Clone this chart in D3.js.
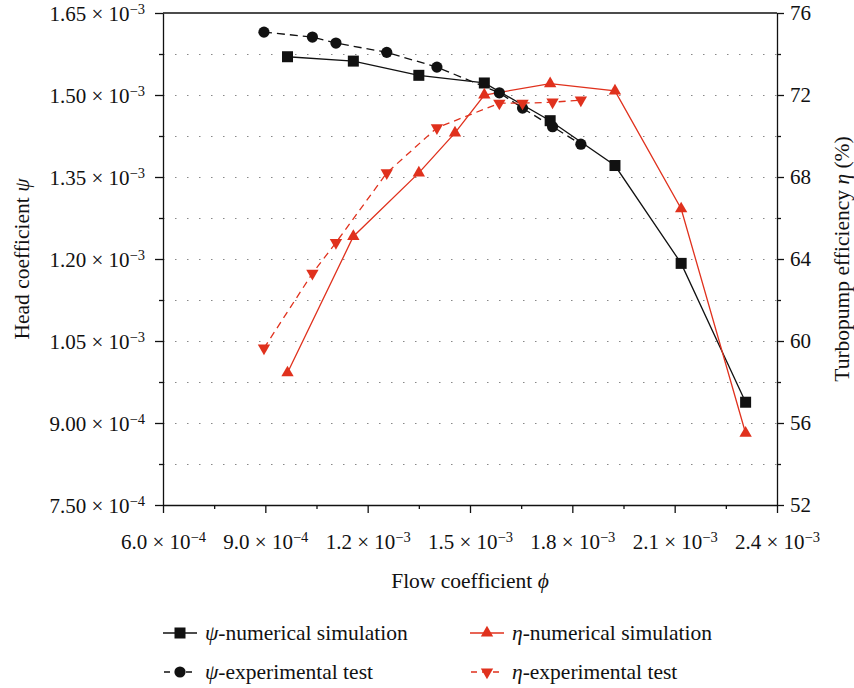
<!DOCTYPE html>
<html>
<head>
<meta charset="utf-8">
<script src="https://cdn.jsdelivr.net/npm/d3@7"></script>
<style>
  body { margin: 0; background: #fff; }
  svg text { font-family: "Liberation Serif", "DejaVu Serif", serif; fill: #111; }
</style>
</head>
<body>
<svg id="chart" width="854" height="688"></svg>
<script>
// Axis ticks and their labels (mantissa, exponent)
const phiTicks = [6e-4, 9e-4, 1.2e-3, 1.5e-3, 1.8e-3, 2.1e-3, 2.4e-3];
const phiTickLabels = [["6.0", "−4"], ["9.0", "−4"], ["1.2", "−3"], ["1.5", "−3"], ["1.8", "−3"], ["2.1", "−3"], ["2.4", "−3"]];
const psiTicks = [7.5e-4, 9e-4, 1.05e-3, 1.2e-3, 1.35e-3, 1.5e-3, 1.65e-3];
const psiTickLabels = [["7.50", "−4"], ["9.00", "−4"], ["1.05", "−3"], ["1.20", "−3"], ["1.35", "−3"], ["1.50", "−3"], ["1.65", "−3"]];
const etaTicks = [52, 56, 60, 64, 68, 72, 76];

// Numerical simulation: head coefficient
const phiSim = [9.65e-4, 1.158e-3, 1.350e-3, 1.542e-3, 1.735e-3, 1.925e-3, 2.119e-3, 2.308e-3];
const psiSim = [1.570e-3, 1.562e-3, 1.536e-3, 1.522e-3, 1.453e-3, 1.371e-3, 1.192e-3, 0.938e-3];
// Numerical simulation: efficiency
const phiSimEta = [9.65e-4, 1.158e-3, 1.350e-3, 1.456e-3, 1.542e-3, 1.735e-3, 1.925e-3, 2.119e-3, 2.308e-3];
const etaSim = [58.45, 65.1, 68.2, 70.15, 72.0, 72.55, 72.2, 66.45, 55.5];
// Experimental test
const phiExp = [8.96e-4, 1.038e-3, 1.107e-3, 1.256e-3, 1.403e-3, 1.586e-3, 1.654e-3, 1.742e-3, 1.825e-3];
const psiExp = [1.615e-3, 1.606e-3, 1.595e-3, 1.578e-3, 1.551e-3, 1.504e-3, 1.476e-3, 1.442e-3, 1.410e-3];
const etaExp = [59.65, 63.3, 64.8, 68.2, 70.4, 71.6, 71.6, 71.65, 71.75];

const RED = "#e0311d";
const BLACK = "#111";
const TICK_FONT = "21px";
const TITLE_FONT = "21.5px";

const m = { left: 163, right: 777, top: 13, bottom: 505 };
const svg = d3.select("#chart");

const x = d3.scaleLinear().domain([6e-4, 2.4e-3]).range([m.left, m.right]);
const yPsi = d3.scaleLinear().domain([7.5e-4, 1.65e-3]).range([m.bottom, m.top]);
const yEta = d3.scaleLinear().domain([52, 76]).range([m.bottom, m.top]);

const mids = arr => arr.slice(1).map((v, i) => (v + arr[i]) / 2);

// Dotted horizontal grid at every major and minor level
const gridVals = psiTicks.concat(mids(psiTicks)).filter(v => v > 7.5e-4 + 1e-9 && v < 1.65e-3 - 1e-9);
svg.append("g").selectAll("line").data(gridVals).join("line")
  .attr("x1", m.left).attr("x2", m.right)
  .attr("y1", d => Math.round(yPsi(d)) + 0.5).attr("y2", d => Math.round(yPsi(d)) + 0.5)
  .attr("stroke", "#888").attr("stroke-width", 1.2).attr("stroke-dasharray", "1.5,10.5");

// Top border
svg.append("line").attr("x1", m.left).attr("x2", m.right).attr("y1", m.top).attr("y2", m.top)
  .attr("stroke", BLACK).attr("stroke-width", 1.3);

function styleAxis(g) {
  g.selectAll("path, line").attr("stroke", BLACK).attr("stroke-width", 1.3);
}

function supLabel(sel, pairs, anchor) {
  sel.selectAll(".tick text").each(function (d, i) {
    const t = d3.select(this);
    t.text(null).attr("text-anchor", anchor).style("font-size", TICK_FONT).attr("fill", BLACK);
    t.append("tspan").text(pairs[i][0] + " × 10");
    t.append("tspan").attr("dy", "-0.5em").style("font-size", "14.5px").text(pairs[i][1]);
  });
}

// Bottom axis
const gx = svg.append("g").attr("transform", `translate(0,${m.bottom})`)
  .call(d3.axisBottom(x).tickValues(phiTicks).tickSize(8).tickSizeOuter(0).tickPadding(21));
supLabel(gx, phiTickLabels, "middle");
styleAxis(gx);
const gxm = svg.append("g").attr("transform", `translate(0,${m.bottom})`)
  .call(d3.axisBottom(x).tickValues(mids(phiTicks)).tickSize(4).tickFormat(""));
gxm.select(".domain").remove();
styleAxis(gxm);

// Left axis
const gy = svg.append("g").attr("transform", `translate(${m.left},0)`)
  .call(d3.axisLeft(yPsi).tickValues(psiTicks).tickSize(8).tickSizeOuter(0).tickPadding(10));
supLabel(gy, psiTickLabels, "end");
gy.selectAll(".tick text").attr("dy", "0.36em");
styleAxis(gy);
const gym = svg.append("g").attr("transform", `translate(${m.left},0)`)
  .call(d3.axisLeft(yPsi).tickValues(mids(psiTicks)).tickSize(4).tickFormat(""));
gym.select(".domain").remove();
styleAxis(gym);

// Right axis
const gr = svg.append("g").attr("transform", `translate(${m.right},0)`)
  .call(d3.axisRight(yEta).tickValues(etaTicks).tickSize(7).tickSizeOuter(0).tickPadding(6));
gr.selectAll(".tick text").style("font-size", TICK_FONT).attr("fill", BLACK);
styleAxis(gr);
const grm = svg.append("g").attr("transform", `translate(${m.right},0)`)
  .call(d3.axisRight(yEta).tickValues(mids(etaTicks)).tickSize(4).tickFormat(""));
grm.select(".domain").remove();
styleAxis(grm);

// Axis titles
function title(g, parts) {
  parts.forEach(p => {
    const s = g.append("tspan").text(p[0]);
    if (p[1]) s.style("font-style", "italic");
  });
}
title(svg.append("text").attr("x", (m.left + m.right) / 2).attr("y", 588)
  .attr("text-anchor", "middle").style("font-size", TITLE_FONT), [["Flow coefficient "], ["ϕ", true]]);
title(svg.append("text").attr("transform", `translate(29,${(m.top + m.bottom) / 2}) rotate(-90)`)
  .attr("text-anchor", "middle").style("font-size", TITLE_FONT), [["Head coefficient "], ["ψ", true]]);
title(svg.append("text").attr("transform", `translate(849,${(m.top + m.bottom) / 2}) rotate(-90)`)
  .attr("text-anchor", "middle").style("font-size", TITLE_FONT), [["Turbopump efficiency "], ["η", true], [" (%)"]]);

// Series
const series = [
  { xs: phiSim, ys: psiSim, y: yPsi, color: BLACK, dash: null, sym: "square" },
  { xs: phiExp, ys: psiExp, y: yPsi, color: BLACK, dash: "8,5", sym: "circle" },
  { xs: phiSimEta, ys: etaSim, y: yEta, color: RED, dash: null, sym: "up" },
  { xs: phiExp, ys: etaExp, y: yEta, color: RED, dash: "7,5", sym: "down" }
];

function drawSymbol(g, sym, color) {
  if (sym === "square") {
    g.append("rect").attr("x", -5.5).attr("y", -5.5).attr("width", 11).attr("height", 11).attr("fill", color);
  } else if (sym === "circle") {
    g.append("circle").attr("r", 5.6).attr("fill", color);
  } else {
    g.append("path").attr("d", d3.symbol().type(d3.symbolTriangle).size(66)())
      .attr("fill", color).attr("transform", sym === "down" ? "rotate(180)" : null);
  }
}

const plot = svg.append("g");
series.forEach(s => {
  const pts = s.xs.map((v, i) => [x(v), s.y(s.ys[i])]);
  plot.append("path").attr("d", d3.line()(pts)).attr("fill", "none")
    .attr("stroke", s.color).attr("stroke-width", 1.3)
    .attr("stroke-dasharray", s.dash);
});
series.forEach(s => {
  s.xs.forEach((v, i) => {
    const g = plot.append("g").attr("transform", `translate(${x(v)},${s.y(s.ys[i])})`);
    drawSymbol(g, s.sym, s.color);
  });
});

// Legend
const legend = [
  { lx: 163, ly: 633, color: BLACK, dash: null, sym: "square", parts: [["ψ", true], ["-numerical simulation"]] },
  { lx: 470, ly: 633, color: RED, dash: null, sym: "up", parts: [["η", true], ["-numerical simulation"]] },
  { lx: 163, ly: 672, color: BLACK, dash: "5,5", sym: "circle", parts: [["ψ", true], ["-experimental test"]] },
  { lx: 470, ly: 672, color: RED, dash: "5,5", sym: "down", parts: [["η", true], ["-experimental test"]] }
];
legend.forEach(l => {
  svg.append("line").attr("x1", l.lx).attr("x2", l.lx + 34).attr("y1", l.ly).attr("y2", l.ly)
    .attr("stroke", l.color).attr("stroke-width", 1.3)
    .attr("stroke-dasharray", l.dash ? "6,5" : null)
    .attr("stroke-dashoffset", l.dash ? -1 : null);
  const g = svg.append("g").attr("transform", `translate(${l.lx + 17},${l.ly})`);
  drawSymbol(g, l.sym, l.color);
  title(svg.append("text").attr("x", l.lx + 42).attr("y", l.ly + 7).style("font-size", TITLE_FONT), l.parts);
});
</script>
</body>
</html>
